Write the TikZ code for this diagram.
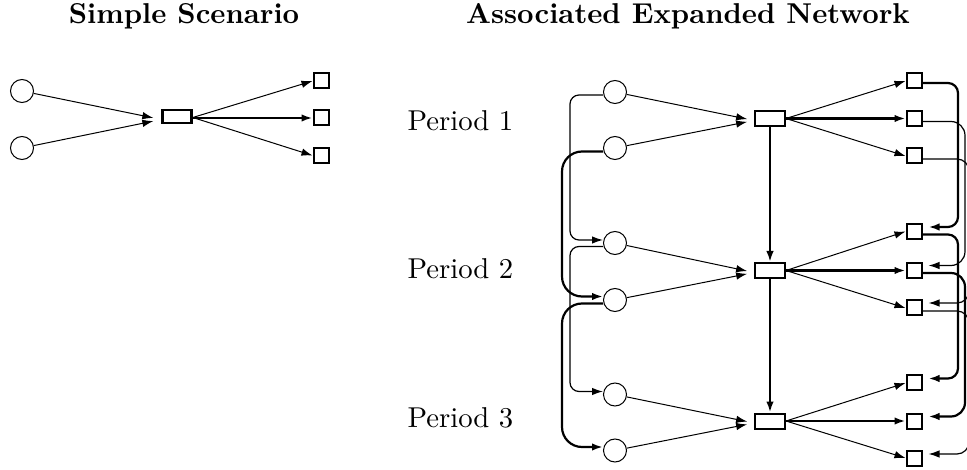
\documentclass[tikz,border=0pt]{standalone}
\usetikzlibrary{arrows.meta,calc}
\begin{document}
\begin{tikzpicture}[x=1pt,y=-1pt,
  circ/.style={circle, draw, line width=1pt, minimum size=23pt, inner sep=0pt},
  boxs/.style={rectangle, draw, line width=2.6pt, minimum width=29pt, minimum height=13pt, inner sep=0pt},
  boxr/.style={rectangle, draw, line width=2pt, minimum width=30pt, minimum height=15pt, inner sep=0pt},
  sq/.style={rectangle, draw, line width=2pt, minimum size=15pt, inner sep=0pt},
  arr/.style={-{Latex[length=11pt,width=7.5pt]}, line width=1pt},
  thickarr/.style={-{Latex[length=11pt,width=7.5pt]}, line width=2.6pt},
  conn/.style={-{Latex[length=11pt,width=7.5pt]}, line width=1.2pt},
  connthick/.style={-{Latex[length=11pt,width=7.5pt]}, line width=2.2pt},
  title/.style={scale=2.87, font=\bfseries, inner sep=0pt, anchor=base},
  period/.style={scale=2.87, inner sep=0pt, anchor=base west}]
\useasboundingbox (0,0) rectangle (967,470);
\fill[white] (0,0) rectangle (967,470);
\clip (0,0) rectangle (967,470);

% titles
\node[title] (t1) at (184,23.5) {Simple Scenario};
\node[title] (t2) at (688,23.5) {Associated Expanded Network};

% period labels
\node[period] (p1) at (407,131) {Period 1};
\node[period] (p2) at (407,279) {Period 2};
\node[period] (p3) at (407,427) {Period 3};

% ---------- simple scenario ----------
\node[circ] (a1) at (22,91) {};
\node[circ] (a2) at (22,148) {};
\node[boxs] (sb) at (177,116.5) {};
\node[sq] (b1) at (321,81) {};
\node[sq] (b2) at (321,118) {};
\node[sq] (b3) at (321,155.5) {};
\draw[arr, shorten >=8pt] (a1) -- ([yshift=-3pt]sb.west);
\draw[arr, shorten >=8pt] (a2) -- ([yshift=-3pt]sb.west);
\draw[arr] ([yshift=-1pt]sb.east) -- (b1.west);
\draw[thickarr] ([yshift=-1.5pt]sb.east) -- (b2.west);
\draw[arr] ([yshift=-1pt]sb.east) -- (b3.west);

% ---------- expanded network ----------
\node[circ] (c1) at (615,92) {};
\node[circ] (c2) at (615,148) {};
\node[circ] (c3) at (615,243) {};
\node[circ] (c4) at (615,300) {};
\node[circ] (c5) at (615,394.5) {};
\node[circ] (c6) at (615,450.5) {};

\node[boxr] (r1) at (770,118.5) {};
\node[boxr] (r2) at (770,270.5) {};
\node[boxr] (r3) at (770,421) {};

\node[sq] (q1) at (914,81) {};
\node[sq] (q2) at (914,118.5) {};
\node[sq] (q3) at (914,156) {};
\node[sq] (q4) at (914,231.5) {};
\node[sq] (q5) at (914,270.5) {};
\node[sq] (q6) at (914,308) {};
\node[sq] (q7) at (914,383) {};
\node[sq] (q8) at (914,421) {};
\node[sq] (q9) at (914,458) {};

% circles to production
\draw[arr, shorten >=7pt] (c1) -- ([yshift=-2pt]r1.west);
\draw[arr, shorten >=7pt] (c2) -- ([yshift=-2pt]r1.west);
\draw[arr, shorten >=7pt] (c3) -- ([yshift=-2pt]r2.west);
\draw[arr, shorten >=7pt] (c4) -- ([yshift=-2pt]r2.west);
\draw[arr, shorten >=7pt] (c5) -- ([yshift=-2pt]r3.west);
\draw[arr, shorten >=7pt] (c6) -- ([yshift=-2pt]r3.west);

% production to demands
\draw[arr] (r1.east) -- (q1.west);
\draw[thickarr] (r1.east) -- (q2.west);
\draw[arr] (r1.east) -- (q3.west);
\draw[arr] (r2.east) -- (q4.west);
\draw[thickarr] (r2.east) -- (q5.west);
\draw[arr] (r2.east) -- (q6.west);
\draw[arr] (r3.east) -- (q7.west);
\draw[thickarr] (r3.east) -- (q8.west);
\draw[arr] (r3.east) -- (q9.west);

% production carry-over
\draw[thickarr] (r1.south) -- (r2.north);
\draw[thickarr] (r2.south) -- (r3.north);

% supply carry-over (left)
\draw[conn, rounded corners=9pt] ([yshift=-3pt]c1.west) -| (570,170) |- ([yshift=3pt]c3.west);
\draw[conn, rounded corners=9pt] ([yshift=-3.5pt]c3.west) -| (570,320) |- ([yshift=3pt]c5.west);
\draw[connthick, rounded corners=20pt] ([yshift=-3.5pt]c2.west) -| (562,220) |- ([yshift=3.5pt]c4.west);
\draw[connthick, rounded corners=20pt] ([yshift=-3.5pt]c4.west) -| (562,380) |- ([yshift=3.5pt]c6.west);

% demand carry-over (right)
\draw[connthick, rounded corners=10pt, shorten >=6pt] ([yshift=-2pt]q1.east) -| (958,150) |- ([yshift=4.5pt]q4.east);
\draw[connthick, rounded corners=10pt, shorten >=6pt] ([yshift=-3pt]q4.east) -| (958,300) |- ([yshift=4.5pt]q7.east);
\draw[conn, rounded corners=14pt, shorten >=6pt] ([yshift=-3pt]q2.east) -| (965,190) |- ([yshift=5pt]q5.east);
\draw[connthick, rounded corners=14pt, shorten >=6pt] ([yshift=-2.5pt]q5.east) -| (965,340) |- ([yshift=4.5pt]q8.east);
\draw[conn, rounded corners=12pt, shorten >=6pt] ([yshift=-3pt]q3.east) -| (969,230) |- ([yshift=5pt]q6.east);
\draw[conn, rounded corners=12pt, shorten >=6pt] ([yshift=-3pt]q6.east) -| (969,380) |- ([yshift=4pt]q9.east);
\end{tikzpicture}
\end{document}
